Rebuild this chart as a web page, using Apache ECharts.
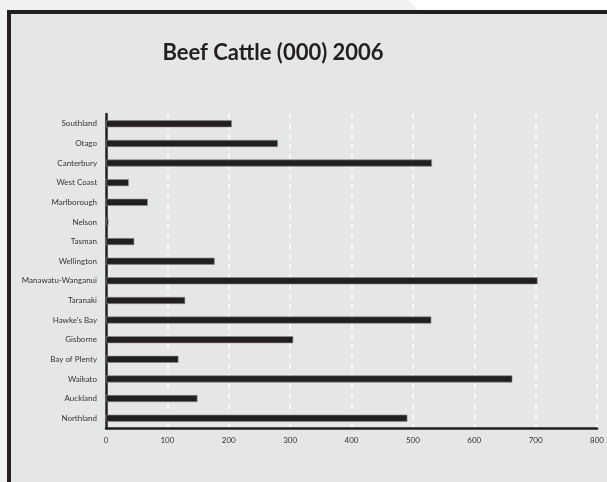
<!DOCTYPE html>
<html>
<head>
<meta charset="utf-8">
<script src="https://cdn.jsdelivr.net/npm/echarts@6/dist/echarts.min.js"></script>
<style>
  html, body { margin: 0; padding: 0; background: #eff1f3; }
  #chart { width: 607px; height: 482px; }
</style>
</head>
<body>
<div id="chart"></div>
<script>
// Beef cattle numbers by region, thousands, 2006 (bottom to top)
const regions = [
  'Northland', 'Auckland', 'Waikato', 'Bay of Plenty', 'Gisborne', "Hawke's Bay",
  'Taranaki', 'Manawatu-Wanganui', 'Wellington', 'Tasman', 'Nelson', 'Marlborough',
  'West Coast', 'Canterbury', 'Otago', 'Southland'
];
const cattle = [491, 149, 662, 118, 305, 530, 129, 703, 177, 46, 4, 68, 37, 531, 280, 205];
const xTicks = { min: 0, max: 800, step: 100 };

const labelFont = 'Lato, "Open Sans", sans-serif';

const chart = echarts.init(document.getElementById('chart'), null, { renderer: 'canvas' });
chart.setOption({
  backgroundColor: '#eff1f3',
  animation: false,
  title: {
    text: 'Beef Cattle (000) 2006',
    left: 268,
    textAlign: 'center',
    top: 37,
    textStyle: { fontFamily: labelFont, fontWeight: 'bold', fontSize: 22, color: '#231f20' }
  },
  graphic: [
    // light wedge behind the panel, top right
    { type: 'polygon', z: -10, shape: { points: [[408, 0], [607, 0], [607, 12], [420, 12]] },
      style: { fill: '#ffffff' } },
    // framed panel
    { type: 'rect', z: -5, shape: { x: 9, y: 12, width: 620, height: 500 },
      style: { fill: '#e5e6e8', stroke: '#231f20', lineWidth: 4 } }
  ],
  grid: { left: 106, right: 4, top: 114, bottom: 54, containLabel: false },
  xAxis: {
    type: 'value',
    min: xTicks.min,
    max: xTicks.max,
    interval: xTicks.step,
    axisLine: { show: true, lineStyle: { color: '#231f20', width: 2.5 } },
    axisTick: { show: false },
    axisLabel: { margin: 8, fontSize: 8, color: '#333', fontFamily: labelFont },
    splitLine: { show: true, lineStyle: { color: '#ffffff', width: 1.5, type: [5, 5] } }
  },
  yAxis: {
    type: 'category',
    data: regions,
    axisLine: { show: true, lineStyle: { color: '#231f20', width: 2.5 } },
    axisTick: { show: false },
    axisLabel: { margin: 9, fontSize: 8, color: '#333', fontFamily: labelFont },
    splitLine: { show: false }
  },
  series: [{
    type: 'bar',
    data: cattle,
    barWidth: 7,
    itemStyle: { color: '#231f20', borderColor: '#8a8a8a', borderWidth: 0.6 }
  }]
});
</script>
</body>
</html>
